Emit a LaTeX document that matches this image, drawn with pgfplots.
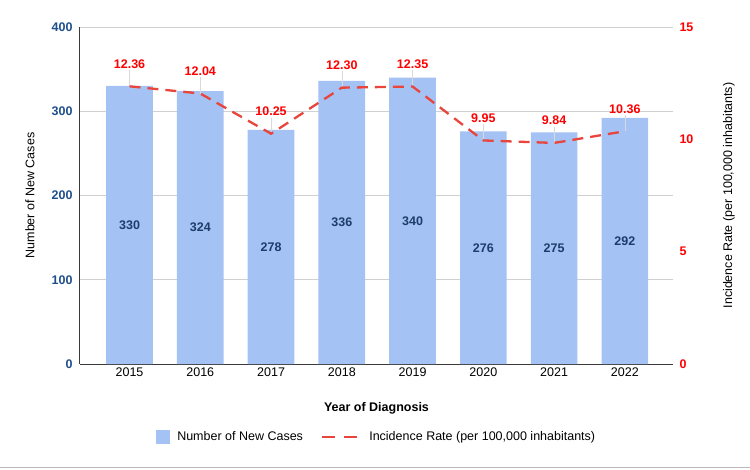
\documentclass[border=0pt]{standalone}
\usepackage{pgfplots}
\usepackage{pgfplotstable}
\pgfplotsset{compat=1.18}
\usepackage{fontspec}
\setmainfont{Liberation Sans}

\definecolor{barblue}{HTML}{A4C2F4}
\definecolor{ticknavy}{HTML}{1F4E8C}
\definecolor{labelnavy}{HTML}{1C3D6B}
\definecolor{ratered}{HTML}{E8453C}
\definecolor{labelred}{HTML}{FF0000}
\definecolor{gridgray}{HTML}{D0D0D0}
\definecolor{axisgray}{HTML}{3A3A3A}

\pgfplotstableread{
x year cases rate
0 2015 330 12.36
1 2016 324 12.04
2 2017 278 10.25
3 2018 336 12.30
4 2019 340 12.35
5 2020 276 9.95
6 2021 275 9.84
7 2022 292 10.36
}\datatable

\newcommand{\chartfont}{\fontsize{12.5}{15}\selectfont}

\pgfplotsset{
  /pgf/number format/assume math mode=true,
  common/.style={
    at={(0,0)}, anchor=south west,
    scale only axis, width=593pt, height=337pt,
    xmin=-0.7, xmax=7.68,
    tick style={draw=none},
  },
}

\begin{document}
\begin{tikzpicture}
\useasboundingbox (-80pt,-105pt) rectangle (670pt,364pt);

% Left axis: number of new cases (bars)
\begin{axis}[
  common,
  ymin=0, ymax=400, ytick={0,100,...,400},
  xtick={0,...,7},
  xticklabels={2015,2016,2017,2018,2019,2020,2021,2022},
  axis x line*=bottom, axis y line*=left,
  axis line style={axisgray, line width=1pt, -},
  ymajorgrids, grid style={gridgray, line width=0.8pt},
  xticklabel style={font=\chartfont, text=black},
  yticklabel style={font=\chartfont\bfseries, text=ticknavy, xshift=-4pt},
  ylabel={Number of New Cases},
  ylabel style={at={([xshift=-50pt]axis description cs:0,0.5)}, anchor=center, font=\chartfont, text=black},
  xlabel={Year of Diagnosis},
  xlabel style={at={([yshift=-44pt]axis description cs:0.5,0)}, anchor=center, font=\chartfont\bfseries},
]
\addplot[ybar, bar width=0.66, fill=barblue, draw=none] table[x=x, y=cases] {\datatable};
\addplot[draw=none, mark=none, nodes near coords, point meta=explicit,
  nodes near coords={\pgfmathprintnumber[fixed, precision=0]{\pgfplotspointmeta}},
  every node near coord/.style={anchor=center, font=\chartfont\bfseries, text=labelnavy}]
  table[x=x, y expr=\thisrow{cases}/2, meta=cases] {\datatable};
\end{axis}

% Right axis: incidence rate (dashed line)
\begin{axis}[
  common,
  ymin=0, ymax=15, ytick={0,5,10,15},
  axis y line*=right, axis x line=none,
  axis line style={draw=none},
  yticklabel style={font=\chartfont\bfseries, text=labelred, xshift=3pt},
  ylabel={Incidence Rate (per 100,000 inhabitants)},
  ylabel style={at={([xshift=56pt]axis description cs:1,0.5)}, anchor=center, font=\chartfont, text=black},
  legend columns=2,
  legend style={at={([yshift=-73pt]axis description cs:0.5,0)}, anchor=center,
    draw=none, fill=none, font=\chartfont,
    /tikz/every odd column/.append style={column sep=6pt},
    /tikz/every even column/.append style={column sep=16pt}},
]
\addlegendimage{legend image code/.code={\fill[barblue] (0pt,-6.5pt) rectangle (13pt,6.5pt);}}
\addlegendentry{Number of New Cases}

% leader lines from labels down to points
\addplot[draw=none, mark=none, forget plot,
  error bars/.cd, y dir=plus, y fixed=0.72,
  error bar style={gray!30, line width=0.6pt}, error mark=none]
  table[x=x, y=rate] {\datatable};

\addplot[ratered, line width=2.3pt, dash pattern=on 11pt off 7pt, mark=none,
  nodes near coords={\pgfmathprintnumber[fixed, fixed zerofill, precision=2]{\pgfplotspointmeta}},
  point meta=explicit,
  every node near coord/.style={anchor=base, yshift=18pt, inner sep=0pt, font=\chartfont\bfseries, text=labelred},
  legend image code/.code={\draw[ratered, line width=2.3pt, dash pattern=on 13pt off 9pt] (0pt,0pt) -- (38pt,0pt);}]
  table[x=x, y=rate, meta=rate] {\datatable};
\addlegendentry{Incidence Rate (per 100,000 inhabitants)}
\end{axis}

\draw[gray!55, line width=1pt] (-80pt,-103pt) -- (670pt,-103pt);
\end{tikzpicture}
\end{document}
